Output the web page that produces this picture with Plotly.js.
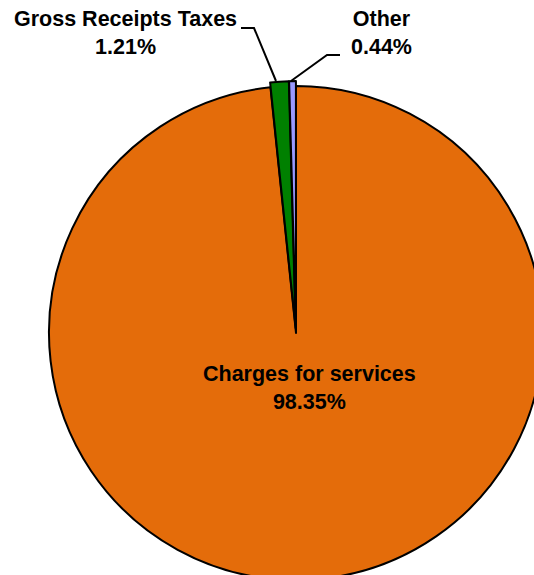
<!DOCTYPE html>
<html>
<head>
<meta charset="utf-8">
<script src="https://cdn.plot.ly/plotly-3.0.1.min.js"></script>
<style>
html,body{margin:0;padding:0;overflow:hidden;background:#fff;width:534px;height:575px;}
#chart{width:600px;height:700px;}
</style>
</head>
<body>
<div id="chart"></div>
<script>
// Data
var categories = ["Charges for services", "Gross Receipts Taxes", "Other"];
var values = [98.35, 1.21, 0.44];
var valueLabels = ["98.35%", "1.21%", "0.44%"];
var colors = ["#E46C0A", "#008000", "#9999FF"];
var pulls = [0, 0.02, 0.02];

// Layout geometry (pixels)
var W = 600, H = 700;
var cx = 296, cy = 333, R = 247;
var maxPull = 0.02;
var half = R * (1 + maxPull);
function px(x){ return x / W; }
function py(y){ return 1 - y / H; }

var trace = {
  type: "pie",
  labels: categories,
  values: values,
  sort: false,
  direction: "clockwise",
  rotation: 0,
  pull: pulls,
  marker: { colors: colors, line: { color: "#000000", width: 2 } },
  textinfo: "none",
  hoverinfo: "label+percent",
  showlegend: false,
  domain: { x: [px(cx - half), px(cx + half)], y: [py(cy + half), py(cy - half)] }
};

var font = { family: "Liberation Sans, Arial, sans-serif", size: 21.5, color: "#000000", weight: 700 };

var labelPos = [[309, 388], [125, 33], [381, 33]];
var annotations = categories.map(function(c, i){
  return {
    xref: "paper", yref: "paper",
    x: px(labelPos[i][0]), y: py(labelPos[i][1]),
    xanchor: "center", yanchor: "middle",
    text: c + "<br>" + valueLabels[i],
    showarrow: false,
    font: font,
    align: "center"
  };
});

function path(pts){
  return pts.map(function(p, i){ return (i ? "L" : "M") + px(p[0]) + "," + py(p[1]); }).join(" ");
}
var shapes = [
  { type: "path", xref: "paper", yref: "paper", path: path([[241, 28], [254, 28], [276, 81]]), line: { color: "#000", width: 2 } },
  { type: "path", xref: "paper", yref: "paper", path: path([[291, 81], [327, 55], [340, 55]]), line: { color: "#000", width: 2 } }
];

var layout = {
  width: W, height: H,
  margin: { l: 0, r: 0, t: 0, b: 0 },
  paper_bgcolor: "#ffffff",
  plot_bgcolor: "#ffffff",
  showlegend: false,
  annotations: annotations,
  shapes: shapes
};

Plotly.newPlot("chart", [trace], layout, { staticPlot: true, displayModeBar: false });
</script>
</body>
</html>
